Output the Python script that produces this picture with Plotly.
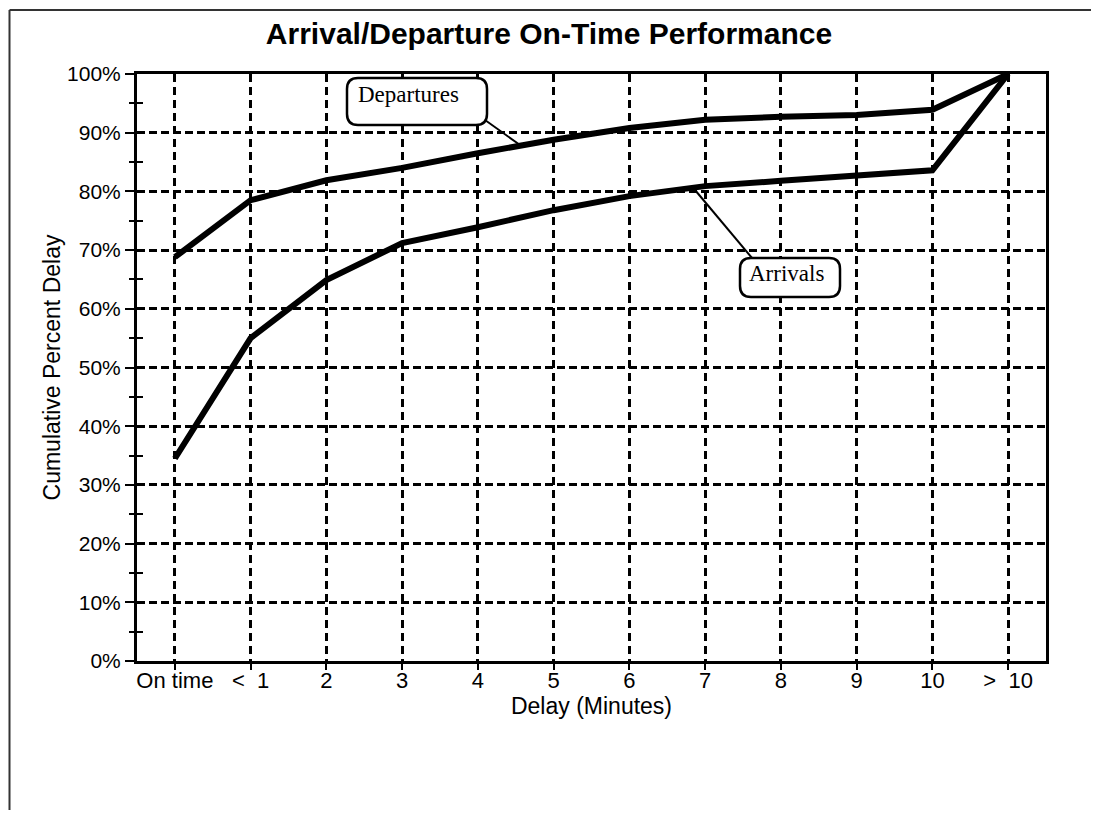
import plotly.graph_objects as go

categories = ["On time", "<  1", "2", "3", "4", "5", "6", "7", "8", "9", "10", ">  10"]
departures = [68.8, 78.5, 81.9, 84.0, 86.5, 88.8, 90.8, 92.2, 92.7, 93.0, 93.9, 100.0]
arrivals = [34.5, 55.0, 64.9, 71.2, 73.9, 76.8, 79.2, 80.9, 81.8, 82.6, 83.6, 100.0]
y_ticks = [0, 10, 20, 30, 40, 50, 60, 70, 80, 90, 100]

OFF = 8  # page body margin of the html page
W, H = 1099 - 2 * OFF, 818 - 2 * OFF
# plot area bounds in screen pixels of the reference
L, R, T, B = 137, 1046, 74, 661


def px(xp):
    return (xp - L) / (R - L)


def py(yp):
    return (B - yp) / (B - T)


xs = list(range(len(categories)))
fig = go.Figure()
fig.add_trace(go.Scatter(x=xs, y=departures, mode="lines",
                         line=dict(color="black", width=6), name="Departures"))
fig.add_trace(go.Scatter(x=xs, y=arrivals, mode="lines",
                         line=dict(color="black", width=6), name="Arrivals"))
# invisible helper trace so the inner-tick overlay axis is drawn
fig.add_trace(go.Scatter(x=xs[:1], y=[0], mode="markers", marker=dict(opacity=0),
                         yaxis="y2", hoverinfo="skip", showlegend=False))

font_sans = "Liberation Sans, Arial, sans-serif"
font_serif = "Liberation Serif, Times New Roman, serif"


def rounded_box(x0, y0, x1, y1, r=11):
    rx = r / (R - L)
    ry = r / (B - T)
    X0, X1 = px(x0), px(x1)
    Y0, Y1 = py(y1), py(y0)
    return (f"M {X0+rx},{Y0} L {X1-rx},{Y0} Q {X1},{Y0} {X1},{Y0+ry} "
            f"L {X1},{Y1-ry} Q {X1},{Y1} {X1-rx},{Y1} L {X0+rx},{Y1} "
            f"Q {X0},{Y1} {X0},{Y1-ry} L {X0},{Y0+ry} Q {X0},{Y0} {X0+rx},{Y0} Z")


shapes = [
    dict(type="path", xref="paper", yref="paper", path=rounded_box(347, 78, 487, 125),
         line=dict(color="black", width=2.5), fillcolor="white", layer="above"),
    dict(type="path", xref="paper", yref="paper", path=rounded_box(740, 258, 840, 297),
         line=dict(color="black", width=2.5), fillcolor="white", layer="above"),
    dict(type="line", xref="paper", yref="paper", x0=px(485), y0=py(120), x1=px(520), y1=py(145),
         line=dict(color="black", width=2)),
    dict(type="line", xref="paper", yref="paper", x0=px(752), y0=py(258), x1=px(695), y1=py(190),
         line=dict(color="black", width=2)),
    dict(type="line", xref="paper", yref="paper", x0=px(9.5), y0=py(10), x1=px(1099), y1=py(10),
         line=dict(color="#333", width=2)),
    dict(type="line", xref="paper", yref="paper", x0=px(9.5), y0=py(10), x1=px(9.5), y1=py(830),
         line=dict(color="#333", width=2)),
]

annotations = [
    dict(xref="paper", yref="paper", x=px(356), y=py(94), text="Departures", showarrow=False,
         xanchor="left", yanchor="middle", font=dict(family=font_serif, size=23, color="black")),
    dict(xref="paper", yref="paper", x=px(747), y=py(273), text="Arrivals", showarrow=False,
         xanchor="left", yanchor="middle", font=dict(family=font_serif, size=23, color="black")),
]

fig.update_layout(
    width=W, height=H,
    margin=dict(l=L - OFF, r=W - (R - OFF), t=T - OFF, b=H - (B - OFF), pad=0),
    paper_bgcolor="white", plot_bgcolor="white",
    showlegend=False,
    title=dict(text="<b>Arrival/Departure On-Time Performance</b>", xref="container", yref="container",
               x=(549 - OFF) / W, y=1 - (33 - OFF) / H, xanchor="center", yanchor="middle",
               font=dict(family=font_sans, size=30, color="black")),
    shapes=shapes,
    annotations=annotations,
    font=dict(family=font_sans, color="black"),
    yaxis2=dict(overlaying="y", side="left", range=[0, 100], showgrid=False, zeroline=False,
                showline=False, showticklabels=False, tickvals=y_ticks,
                ticks="inside", ticklen=6, tickwidth=2, tickcolor="black",
                minor=dict(dtick=5, ticks="inside", ticklen=6, tickwidth=2, tickcolor="black",
                           showgrid=False)),
)

fig.update_xaxes(
    tickmode="array", tickvals=xs, ticktext=categories,
    range=[-0.5, len(categories) - 0.5],
    showline=True, linecolor="black", linewidth=3, mirror=True,
    showgrid=True, gridcolor="black", gridwidth=2.5, griddash="8px,5px",
    ticks="outside", ticklen=6, tickcolor="black", tickwidth=2,
    ticklabelstandoff=-8,
    tickfont=dict(family=font_sans, size=22, color="black"),
    title=dict(text="Delay (Minutes)", font=dict(family=font_sans, size=23, color="black"), standoff=0),
    zeroline=False,
)
fig.update_layout(yaxis=dict(
    range=[0, 100], tickmode="array", tickvals=y_ticks, ticktext=[f"{v}%" for v in y_ticks],
    showline=True, linecolor="black", linewidth=3, mirror=True,
    showgrid=True, gridcolor="black", gridwidth=2.5, griddash="8px,4px",
    ticks="outside", ticklen=9, tickcolor="black", tickwidth=2,
    minor=dict(dtick=5, ticks="outside", ticklen=5, tickcolor="black", tickwidth=2, showgrid=False),
    tickfont=dict(family=font_sans, size=21, color="black"),
    title=dict(text="Cumulative Percent Delay", font=dict(family=font_sans, size=23, color="black"), standoff=1),
    zeroline=False,
))

fig.write_html("out.html")
